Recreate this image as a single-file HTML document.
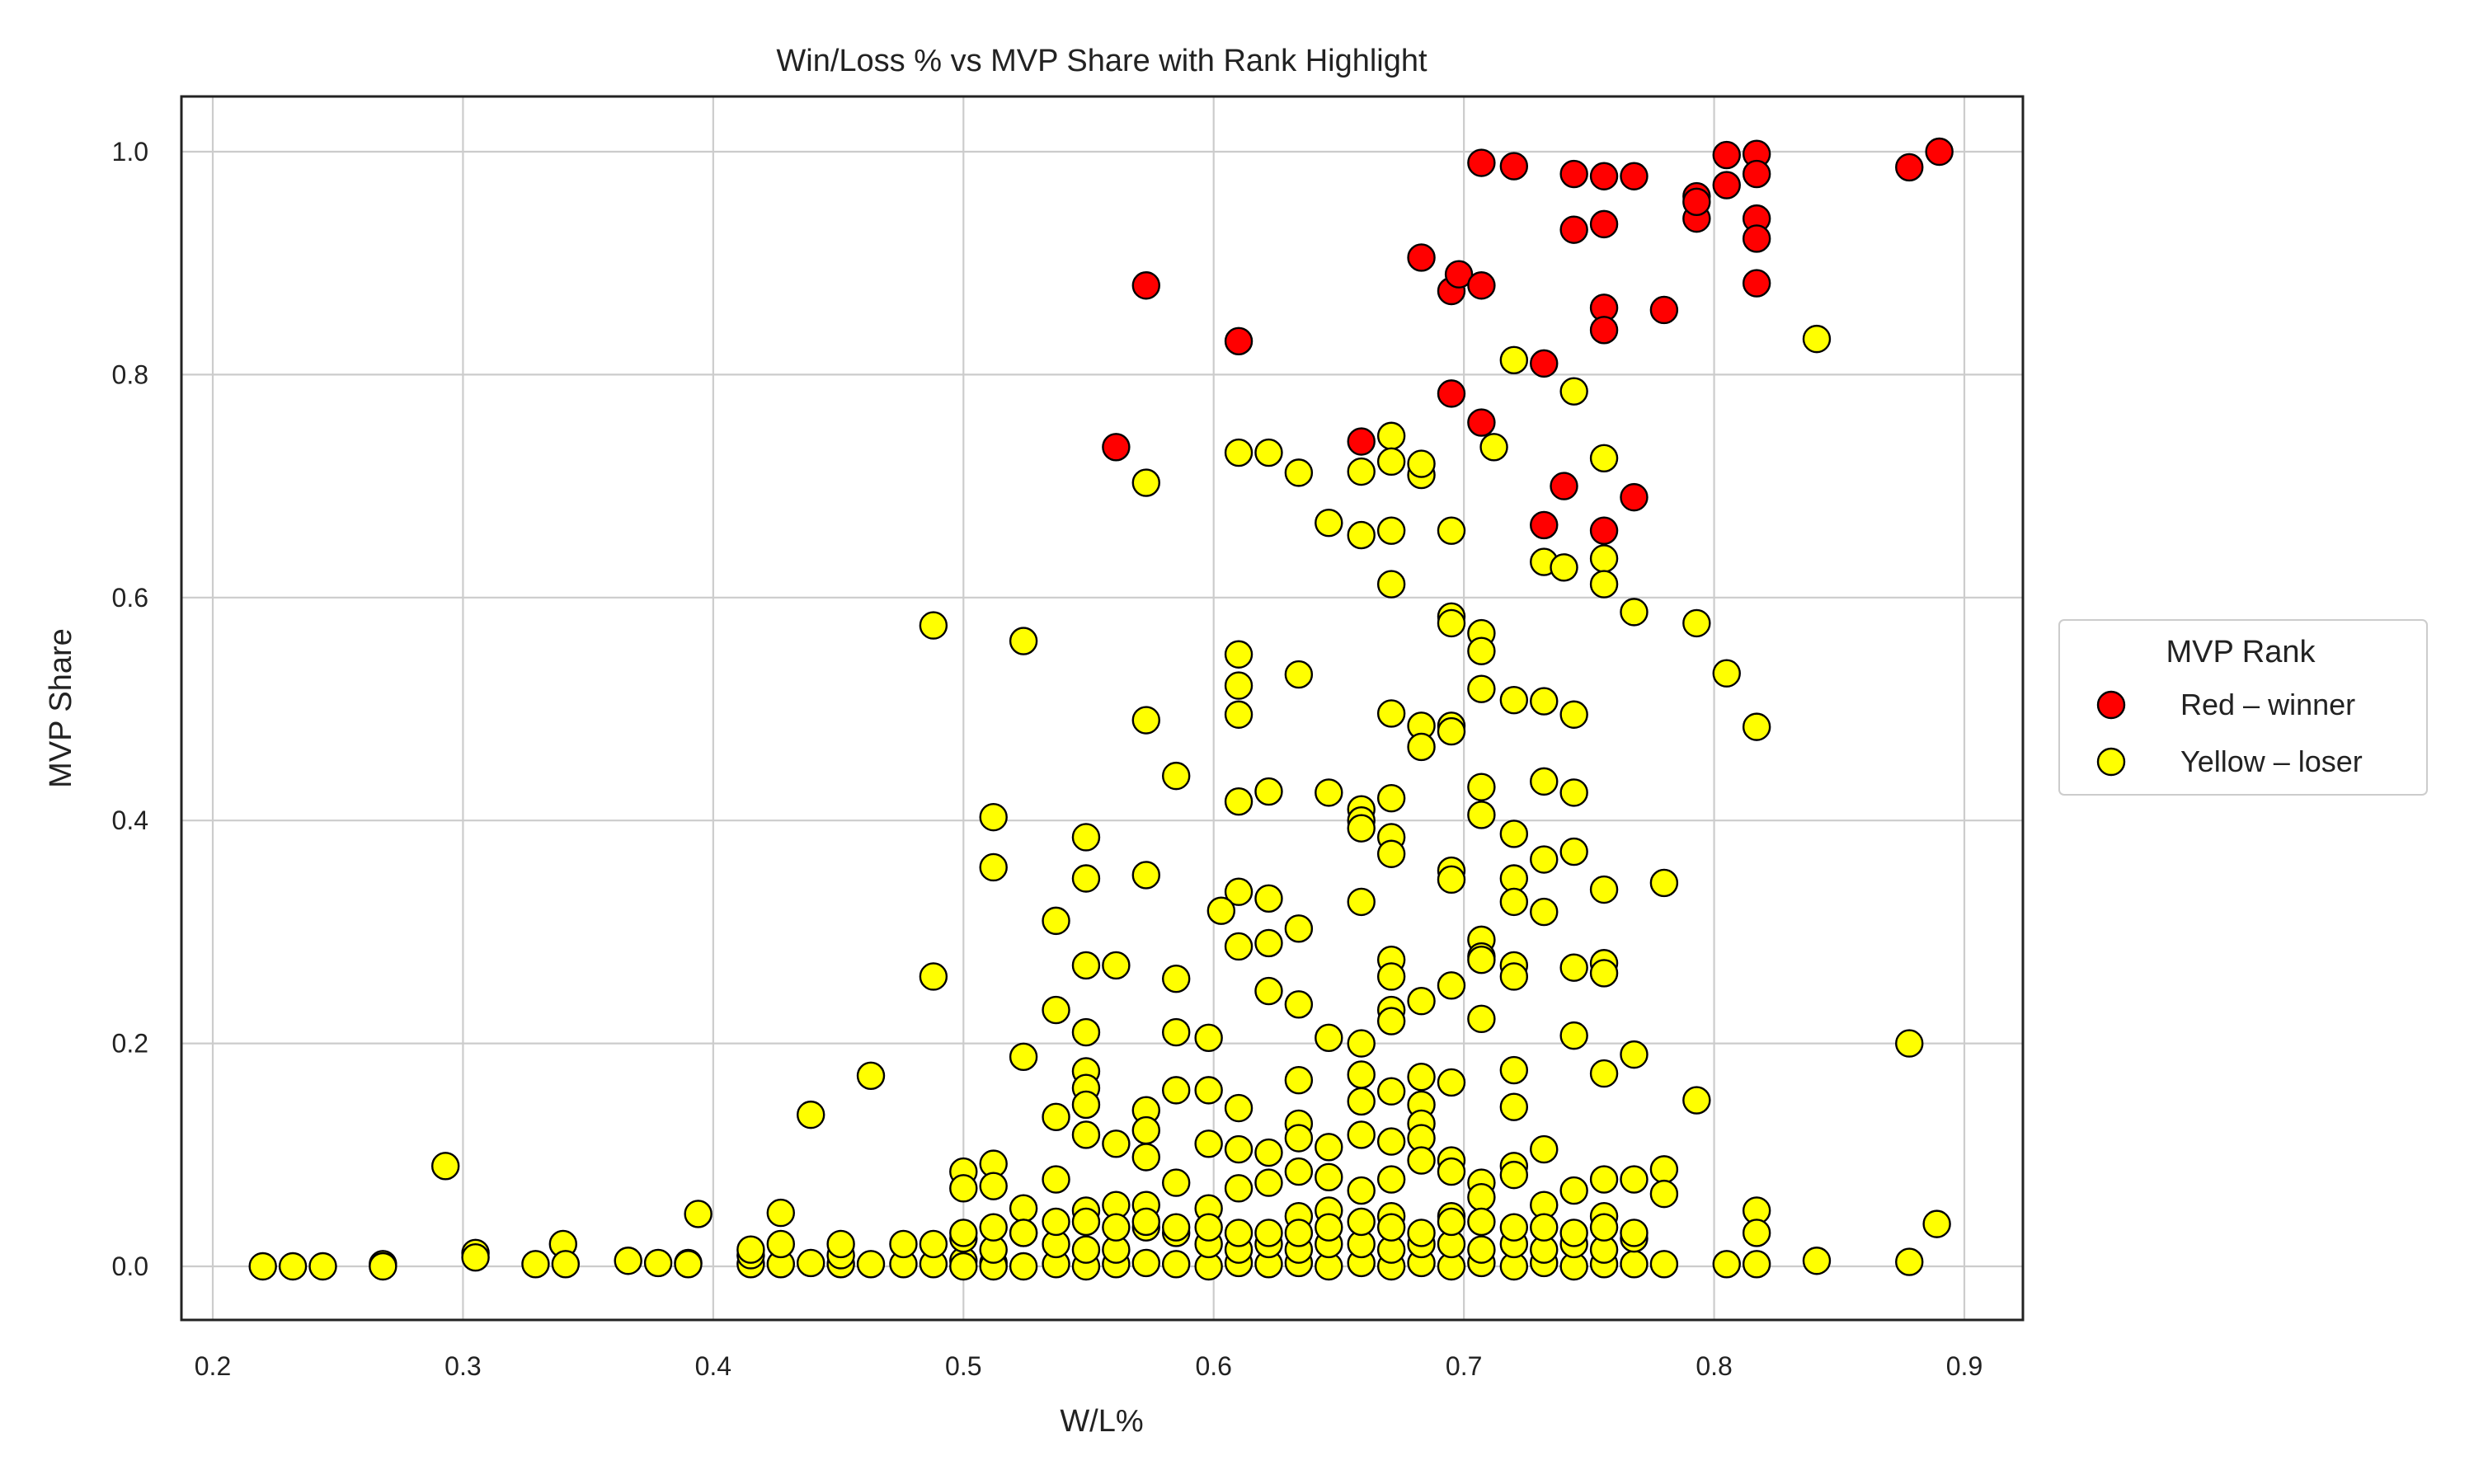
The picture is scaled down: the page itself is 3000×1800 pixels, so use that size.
<!DOCTYPE html>
<html><head><meta charset="utf-8"><style>
html,body{margin:0;padding:0;background:#fff;width:3000px;height:1800px;overflow:hidden}
svg text{font-family:"Liberation Sans","DejaVu Sans",sans-serif;fill:#222}
</style></head><body>
<svg id="chart" width="3000" height="1800" xmlns="http://www.w3.org/2000/svg">
<rect width="3000" height="1800" fill="#fff"/>
<g id="grid"></g><g id="pts"></g><g id="axes"></g>
</svg>
<script>
const xTicks=[0.2,0.3,0.4,0.5,0.6,0.7,0.8,0.9];
const yTicks=[0.0,0.2,0.4,0.6,0.8,1.0];
const redX=[0.573,0.61,0.561,0.659,0.683,0.695,0.698,0.707,0.695,0.707,0.707,0.72,0.732,0.732,0.74,0.744,0.744,0.756,0.756,0.756,0.756,0.756,0.768,0.768,0.78,0.793,0.793,0.793,0.805,0.805,0.817,0.817,0.817,0.817,0.817,0.878,0.89];
const redY=[0.88,0.83,0.735,0.74,0.905,0.875,0.89,0.88,0.783,0.757,0.99,0.987,0.81,0.665,0.70,0.98,0.93,0.978,0.935,0.86,0.84,0.66,0.978,0.69,0.858,0.96,0.94,0.955,0.997,0.97,0.998,0.98,0.94,0.922,0.882,0.986,1.0];
const yelX=[0.841,0.72,0.744,0.573,0.61,0.622,0.634,0.659,0.671,0.671,0.683,0.683,0.712,0.756,0.646,0.659,0.671,0.695,0.732,0.74,0.756,0.756,0.671,0.768,0.793,0.695,0.695,0.707,0.707,0.488,0.524,0.61,0.61,0.634,0.805,0.707,0.72,0.732,0.744,0.671,0.683,0.695,0.695,0.683,0.61,0.573,0.817,0.585,0.622,0.61,0.646,0.659,0.659,0.659,0.671,0.707,0.707,0.732,0.744,0.512,0.549,0.512,0.549,0.573,0.671,0.671,0.72,0.72,0.732,0.744,0.695,0.695,0.756,0.78,0.61,0.603,0.622,0.659,0.72,0.732,0.537,0.61,0.622,0.634,0.707,0.707,0.707,0.671,0.671,0.72,0.72,0.744,0.756,0.756,0.549,0.561,0.488,0.585,0.622,0.695,0.634,0.537,0.671,0.671,0.683,0.707,0.549,0.585,0.598,0.646,0.659,0.744,0.878,0.768,0.524,0.463,0.549,0.659,0.683,0.695,0.72,0.756,0.549,0.585,0.598,0.634,0.659,0.671,0.683,0.72,0.793,0.61,0.573,0.439,0.537,0.549,0.549,0.573,0.561,0.598,0.61,0.622,0.634,0.634,0.646,0.659,0.671,0.683,0.683,0.732,0.293,0.5,0.512,0.524,0.537,0.573,0.585,0.61,0.622,0.634,0.646,0.659,0.671,0.683,0.695,0.695,0.707,0.707,0.72,0.72,0.744,0.756,0.768,0.78,0.78,0.817,0.889,0.394,0.427,0.5,0.512,0.549,0.561,0.573,0.598,0.634,0.646,0.671,0.695,0.732,0.756,0.817,0.34,0.305,
0.22,0.232,0.244,0.268,0.268,0.305,0.329,0.341,0.366,0.378,0.39,0.39,0.415,0.415,0.427,0.439,0.451,0.451,0.463,0.476,0.488,0.5,0.5,0.512,0.512,0.524,0.537,0.549,0.561,0.573,0.585,0.598,0.61,0.622,0.634,0.646,0.659,0.671,0.683,0.695,0.707,0.72,0.732,0.744,0.756,0.768,0.78,0.805,0.817,0.841,0.878,
0.415,0.427,0.451,0.476,0.488,0.5,0.512,0.524,0.537,0.549,0.561,0.573,0.585,0.598,0.61,0.622,0.634,0.646,0.659,0.671,0.683,0.695,0.707,0.72,0.732,0.744,0.756,0.768,
0.5,0.512,0.524,0.537,0.549,0.561,0.573,0.585,0.598,0.61,0.622,0.634,0.646,0.659,0.671,0.683,0.695,0.707,0.72,0.732,0.744,0.756,0.768];
const yelY=[0.832,0.813,0.785,0.703,0.73,0.73,0.712,0.713,0.745,0.722,0.71,0.72,0.735,0.725,0.667,0.656,0.66,0.66,0.632,0.627,0.635,0.612,0.612,0.587,0.577,0.583,0.577,0.568,0.552,0.575,0.561,0.549,0.521,0.531,0.532,0.518,0.508,0.507,0.495,0.496,0.485,0.485,0.48,0.466,0.495,0.49,0.484,0.44,0.426,0.417,0.425,0.41,0.40,0.393,0.42,0.43,0.405,0.435,0.425,0.403,0.385,0.358,0.348,0.351,0.385,0.37,0.388,0.348,0.365,0.372,0.355,0.347,0.338,0.344,0.336,0.319,0.33,0.327,0.327,0.318,0.31,0.287,0.29,0.303,0.293,0.278,0.275,0.275,0.26,0.27,0.26,0.268,0.272,0.263,0.27,0.27,0.26,0.258,0.247,0.252,0.235,0.23,0.23,0.22,0.238,0.222,0.21,0.21,0.205,0.205,0.2,0.207,0.2,0.19,0.188,0.171,0.175,0.172,0.17,0.165,0.176,0.173,0.16,0.158,0.158,0.167,0.148,0.157,0.145,0.143,0.149,0.142,0.14,0.136,0.134,0.145,0.118,0.122,0.11,0.11,0.105,0.102,0.128,0.115,0.107,0.118,0.112,0.128,0.115,0.105,0.09,0.085,0.092,0.052,0.078,0.098,0.075,0.07,0.075,0.085,0.08,0.068,0.078,0.095,0.095,0.085,0.075,0.062,0.09,0.082,0.068,0.078,0.078,0.087,0.065,0.05,0.038,0.047,0.048,0.07,0.072,0.05,0.055,0.055,0.052,0.045,0.05,0.045,0.045,0.055,0.045,0.03,0.02,0.012,
0,0,0,0.002,0,0.008,0.002,0.002,0.005,0.003,0.003,0.002,0.002,0.01,0.002,0.003,0.002,0.01,0.002,0.002,0.002,0.005,0,0.003,0,0,0.002,0,0.002,0.003,0.002,0,0.003,0.002,0.003,0,0.003,0,0.003,0,0.003,0,0.003,0,0.002,0.002,0.002,0.002,0.002,0.005,0.004,
0.015,0.02,0.02,0.02,0.02,0.025,0.015,0.03,0.02,0.015,0.015,0.035,0.03,0.02,0.015,0.02,0.015,0.02,0.02,0.015,0.02,0.02,0.015,0.02,0.015,0.02,0.015,0.025,
0.03,0.035,0.03,0.04,0.04,0.035,0.04,0.035,0.035,0.03,0.03,0.03,0.035,0.04,0.035,0.03,0.04,0.04,0.035,0.035,0.03,0.035,0.03];
const X0=220,X1=2453,Y0=117,Y1=1601;
const sx=v=>258+(v-0.2)*(2382-258)/0.7;
const sy=v=>1536-v*(1536-184);
const NS="http://www.w3.org/2000/svg";
function mk(p,t,a){const e=document.createElementNS(NS,t);for(const k in a)e.setAttribute(k,a[k]);p.appendChild(e);return e;}
const grid=document.getElementById('grid'),pts=document.getElementById('pts'),axes=document.getElementById('axes');
xTicks.forEach(t=>{const g=mk(grid,'line',{x1:sx(t),x2:sx(t),y1:Y0,y2:Y1,stroke:'#cccccc','stroke-width':2.2});


const l=mk(axes,'text',{x:sx(t),y:1668,'text-anchor':'middle','font-size':32});l.textContent=t.toFixed(1);

});
yTicks.forEach(t=>{const g=mk(grid,'line',{x1:X0,x2:X1,y1:sy(t),y2:sy(t),stroke:'#cccccc','stroke-width':2.2});


const l=mk(axes,'text',{x:180,y:sy(t)+11,'text-anchor':'end','font-size':32});l.textContent=t.toFixed(1);

});
yelX.forEach((x,i)=>{const c=mk(pts,'circle',{cx:sx(x),cy:sy(yelY[i]),r:16,fill:'#ffff00',stroke:'#000','stroke-width':2.4});

});
redX.forEach((x,i)=>{const c=mk(pts,'circle',{cx:sx(x),cy:sy(redY[i]),r:16,fill:'#ff0000',stroke:'#000','stroke-width':2.4});

});
const fr=mk(axes,'rect',{x:X0,y:Y0,width:X1-X0,height:Y1-Y0,fill:'none',stroke:'#222','stroke-width':3});


</script>
<svg style="position:absolute;left:0;top:0" width="3000" height="1800">
<text x="1336" y="86" text-anchor="middle" font-size="38">Win/Loss % vs MVP Share with Rank Highlight</text>
<text x="1336" y="1736" text-anchor="middle" font-size="38">W/L%</text>
<text transform="translate(86,859) rotate(-90)" text-anchor="middle" font-size="38">MVP Share</text>
<g>
<rect x="2497" y="752" width="446" height="212" rx="6" fill="#fff" stroke="#ccc" stroke-width="2"/>
<text x="2717" y="803" text-anchor="middle" font-size="38">MVP Rank</text>
<circle cx="2560" cy="855" r="16" fill="#ff0000" stroke="#000" stroke-width="2.4"/>
<text x="2644" y="867" font-size="36">Red – winner</text>
<circle cx="2560" cy="924" r="16" fill="#ffff00" stroke="#000" stroke-width="2.4"/>
<text x="2644" y="936" font-size="36">Yellow – loser</text>
</g>
</svg>
</body></html>
